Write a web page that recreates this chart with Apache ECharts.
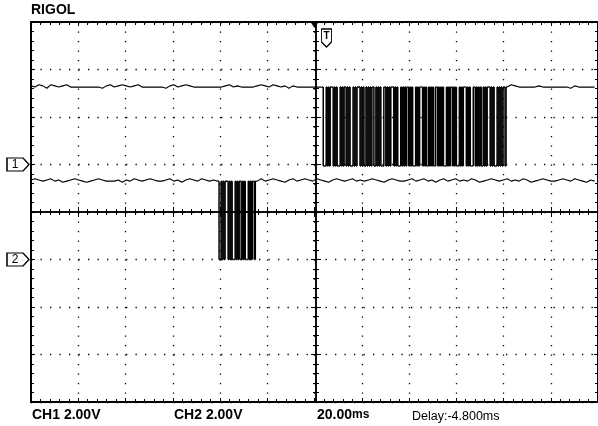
<!DOCTYPE html>
<html><head><meta charset="utf-8">
<script src="https://cdn.jsdelivr.net/npm/echarts@6/dist/echarts.min.js"></script>
<style>html,body{margin:0;padding:0;background:#fff;}#c{width:598px;height:426px;}</style>
</head><body><div id="c"></div>
<script>
// ---------------- data ----------------
const timeRangeMs = [-120, 120];     // 12 divisions x 20 ms
const timePerDivMs = 20;
const vertRangeDiv = [-4, 4];        // 8 divisions
const voltsPerDiv = [2, 2];          // CH1, CH2
const channelOffsetDiv = [1, -1];    // ground markers
const channelNames = ['1', '2'];
const idleVolts = [3.26, 3.3];
const lowVolts = [-0.06, 0.0];
const ch1BurstWindowMs = [3.7, 81.5];
const ch2BurstWindowMs = [-40.4, -24.2];
// burst level per ~1 px sample (1 = high, 0 = low)
const ch1BurstBits =
  "0001010111010100010101101010001010111" +
  "0101001010101100101010001101010111010" +
  "1000101010110101000101011101010010101" +
  "0011010101000101011010100010101110101" +
  "0001101010100101011101010001010101101";
const ch2BurstBits = "00101011101010001010110101000101011011";
// idle-line jitter, one char per noiseStepMs from -120 ms ('-' down, '0' flat, '+' up, '^' up more)
const noiseStepMs = 1.68;
const noiseVolts = { '-': -0.05, '0': 0, '+': 0.05, '^': 0.1 };
const ch1Noise =
  "+0^+-^+0+^0" + "0000000" + "-" + "+^0+^+0+^0" + "00000" + "-+" + "^0+^+0" +
  "000000" + "0+^0+" + "0000" + "+^+0^+" + "0+-+" + "000000" +
  "00000000000000000000000000000000000000000000000" + "+^+" + "00000+0000000-+00000";
const ch2Noise =
  "+^+0+^0+-0+" + "^+0-0+^+00" + "0+-+0^+0+^" + "+00+^0+-+^" + "+0^+0+" +
  "0000000000" + "+^0+^+0-+^" + "0+^+0^+0-+" + "^+0+^0+0+^" + "+0-+^+00+^" +
  "0+^0+-+^0+" + "^0+0^+-0+^" + "+0+^0+0^+-" + "0+^+00+^+0" + "^+0-+0";
const brandText = 'RIGOL';
const statusTexts = ['CH1 2.00V', 'CH2 2.00V', '20.00', 'ms', 'Delay:-4.800ms'];

// ---------------- build traces ----------------
function idleTrace(noise, win, idle, off, vpd) {
  const pts = [];
  let gap = false;
  for (let i = 0; i < noise.length; i++) {
    const t = timeRangeMs[0] + i * noiseStepMs;
    if (t >= win[0] && t < win[1]) {
      if (!gap) {
        pts.push([win[0], off + idle / vpd]);
        pts.push([(win[0] + win[1]) / 2, null]);
        pts.push([win[1], off + idle / vpd]);
        gap = true;
      }
      continue;
    }
    pts.push([t, off + (idle + noiseVolts[noise[i]]) / vpd]);
  }
  return pts;
}
function burstSegments(bits, win, idle, low, off, vpd) {
  const segs = [];
  const dt = (win[1] - win[0]) / bits.length;
  let prev = off + idle / vpd;
  for (let k = 0; k < bits.length; k++) {
    const lv = off + (bits[k] === '1' ? idle : low) / vpd;
    const t0 = win[0] + k * dt, t1 = win[0] + (k + 1) * dt;
    if (lv !== prev) segs.push([t0, prev, t0, lv]);
    segs.push([t0, lv, t1, lv]);
    prev = lv;
  }
  const hi = off + idle / vpd;
  if (prev !== hi) segs.push([win[1], prev, win[1], hi]);
  return segs;
}
const ch1Idle = idleTrace(ch1Noise, ch1BurstWindowMs, idleVolts[0], channelOffsetDiv[0], voltsPerDiv[0]);
const ch2Idle = idleTrace(ch2Noise, ch2BurstWindowMs, idleVolts[1], channelOffsetDiv[1], voltsPerDiv[1]);
const ch1Burst = burstSegments(ch1BurstBits, ch1BurstWindowMs, idleVolts[0], lowVolts[0], channelOffsetDiv[0], voltsPerDiv[0]);
const ch2Burst = burstSegments(ch2BurstBits, ch2BurstWindowMs, idleVolts[1], lowVolts[1], channelOffsetDiv[1], voltsPerDiv[1]);

// ---------------- chart ----------------
const black = '#000';
const FONT = '"Liberation Sans", Arial, sans-serif';
function xAx(position, opts) {
  return Object.assign({
    type: 'value', position, min: timeRangeMs[0], max: timeRangeMs[1], interval: timePerDivMs,
    axisLine: { show: true, onZero: false, lineStyle: { color: black, width: 2 } },
    axisTick: { show: true, inside: true, length: 4, lineStyle: { color: black, width: 1 } },
    minorTick: { show: true, splitNumber: 5, length: 3, lineStyle: { color: black, width: 1 } },
    axisLabel: { show: false }, splitLine: { show: false }
  }, opts);
}
function yAx(position, opts) {
  return Object.assign({
    type: 'value', position, min: vertRangeDiv[0], max: vertRangeDiv[1], interval: 1,
    axisLine: { show: true, onZero: false, lineStyle: { color: black, width: 2 } },
    axisTick: { show: true, inside: true, length: 4, lineStyle: { color: black, width: 1 } },
    minorTick: { show: true, splitNumber: 5, length: 3, lineStyle: { color: black, width: 1 } },
    axisLabel: { show: false }, splitLine: { show: false }
  }, opts);
}
const dotted = { show: true, lineStyle: { color: black, width: 1.3, type: [1.3, 8.2] } };
const centerLine = { show: true, onZero: false, lineStyle: { color: black, width: 1.5 } };
const centerTick = (inside) => ({ show: true, inside, length: 5, lineStyle: { color: black } });
const centerMinor = { show: true, splitNumber: 5, length: 3, lineStyle: { color: black } };

const chMarker = (name) => ({
  symbol: 'path://M0,0 L16,0 L22,6 L16,12 L0,12 Z', symbolSize: [22, 13],
  itemStyle: { color: '#fff', borderColor: black, borderWidth: 1.2 },
  label: { show: true, formatter: name, color: black, fontFamily: FONT, fontSize: 12, offset: [-3, 0] }
});

function segRender(params, api) {
  const a = api.coord([api.value(0), api.value(1)]);
  const b = api.coord([api.value(2), api.value(3)]);
  return { type: 'line', shape: { x1: a[0], y1: a[1], x2: b[0], y2: b[1] },
           style: { stroke: black, lineWidth: 1.5, lineCap: 'butt' } };
}
const boldText = { fontFamily: FONT, fontWeight: 'bold', fontSize: 14, color: black };

const option = {
  animation: false,
  backgroundColor: '#fff',
  grid: { left: 31, top: 22, width: 570, height: 380, containLabel: false },
  title: [
    { text: brandText, left: 31, top: 3, padding: 0, textStyle: boldText },
    { text: statusTexts[0], left: 32, top: 408, padding: 0, textStyle: boldText },
    { text: statusTexts[1], left: 174, top: 408, padding: 0, textStyle: boldText },
    { text: '{a|' + statusTexts[2] + '}{b|' + statusTexts[3] + '}', left: 317, top: 408, padding: 0,
      textStyle: { rich: { a: boldText, b: { fontFamily: FONT, fontWeight: 'bold', fontSize: 12, color: black } } } },
    { text: statusTexts[4], left: 412, top: 410, padding: 0, textStyle: { fontFamily: FONT, fontWeight: 'normal', fontSize: 12.5, color: black } }
  ],
  xAxis: [
    xAx('bottom', { splitLine: dotted }),
    xAx('top', {}),
    xAx('bottom', { offset: -190, axisLine: centerLine, axisTick: centerTick(true), minorTick: centerMinor }),
    xAx('bottom', { offset: -190, axisLine: centerLine, axisTick: centerTick(false), minorTick: centerMinor })
  ],
  yAxis: [
    yAx('left', { splitLine: dotted }),
    yAx('right', {}),
    yAx('left', { offset: -285, axisLine: centerLine, axisTick: centerTick(true), minorTick: centerMinor }),
    yAx('left', { offset: -285, axisLine: centerLine, axisTick: centerTick(false), minorTick: centerMinor })
  ],
  series: [
    {
      name: 'CH1', type: 'line', data: ch1Idle, showSymbol: false, symbol: 'none', connectNulls: false,
      lineStyle: { color: black, width: 1.1 }, z: 5, silent: true,
      markPoint: {
        silent: true, animation: false,
        data: [
          Object.assign({ coord: [timeRangeMs[0], channelOffsetDiv[0]], symbolOffset: [-13, 0] }, chMarker(channelNames[0])),
          { coord: [0, vertRangeDiv[1]], symbol: 'path://M0,0 L10,0 L10,13 L5,18 L0,13 Z', symbolSize: [10, 18], symbolOffset: [12, 16],
            itemStyle: { color: '#fff', borderColor: black, borderWidth: 1.2 },
            label: { show: true, formatter: 'T', color: black, fontFamily: FONT, fontSize: 10, fontWeight: 'bold', offset: [0, -2] } },
          { coord: [0, vertRangeDiv[1]], symbol: 'triangle', symbolRotate: 180, symbolSize: [8, 6], symbolOffset: [0, 3],
            itemStyle: { color: black }, label: { show: false } }
        ]
      }
    },
    {
      name: 'CH2', type: 'line', data: ch2Idle, showSymbol: false, symbol: 'none', connectNulls: false,
      lineStyle: { color: black, width: 1.1 }, z: 5, silent: true,
      markPoint: {
        silent: true, animation: false,
        data: [ Object.assign({ coord: [timeRangeMs[0], channelOffsetDiv[1]], symbolOffset: [-13, 0] }, chMarker(channelNames[1])) ]
      }
    },
    { name: 'CH1 burst', type: 'custom', data: ch1Burst, renderItem: segRender, encode: { x: [0, 2], y: [1, 3] }, z: 5, silent: true, clip: false },
    { name: 'CH2 burst', type: 'custom', data: ch2Burst, renderItem: segRender, encode: { x: [0, 2], y: [1, 3] }, z: 5, silent: true, clip: false }
  ]
};
const chart = echarts.init(document.getElementById('c'), null, { renderer: 'canvas' });
chart.setOption(option);
</script></body></html>
